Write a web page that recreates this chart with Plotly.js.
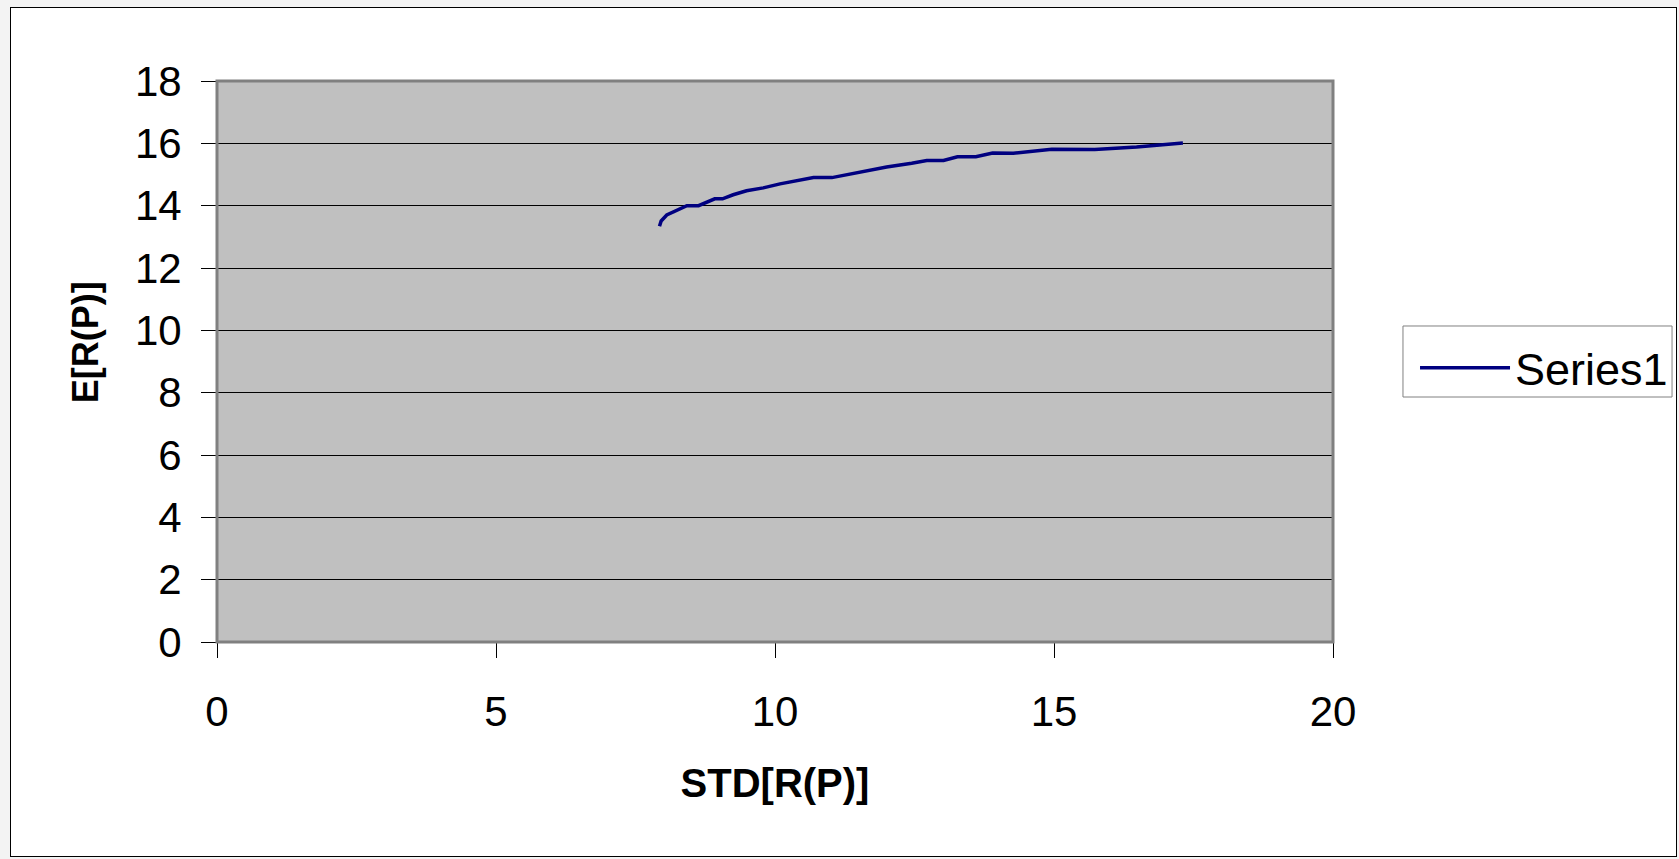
<!DOCTYPE html>
<html>
<head>
<meta charset="utf-8">
<script src="https://cdn.plot.ly/plotly-3.0.1.min.js"></script>
<style>
  html, body { margin: 0; padding: 0; background: #f3f3f3; width: 1679px; height: 859px; overflow: hidden; }
  #frame { position: absolute; left: 10px; top: 7px; width: 1667px; height: 850px; box-sizing: border-box; border: 1px solid #000; background: #fff; }
  #chart { width: 1665px; height: 848px; }
</style>
</head>
<body>
<div id="frame"><div id="chart"></div></div>
<script>
// Data
const seriesName = "Series1";
const stdRP = [7.93, 7.96, 8.06, 8.21, 8.42, 8.63, 8.92, 9.06, 9.25, 9.49, 9.79, 10.09, 10.69, 11.02, 11.64, 12.00, 12.45, 12.72, 13.02, 13.27, 13.60, 13.90, 14.27, 14.96, 15.73, 16.48, 17.31];
const expRP = [13.34, 13.51, 13.70, 13.83, 14.00, 14.00, 14.22, 14.22, 14.35, 14.48, 14.57, 14.70, 14.90, 14.90, 15.13, 15.24, 15.36, 15.45, 15.45, 15.57, 15.57, 15.69, 15.68, 15.81, 15.80, 15.88, 16.01];
const xTicks = [0, 5, 10, 15, 20];
const yTicks = [0, 2, 4, 6, 8, 10, 12, 14, 16, 18];
const xTitle = "STD[R(P)]";
const yTitle = "E[R(P)]";

const font = "Liberation Sans, Arial, sans-serif";

const trace = {
  x: stdRP, y: expRP, type: "scatter", mode: "lines", name: seriesName,
  line: { color: "#000080", width: 3.5 }
};

const layout = {
  width: 1665, height: 848,
  margin: { l: 206, r: 343, t: 73, b: 214, autoexpand: false },
  paper_bgcolor: "#ffffff",
  plot_bgcolor: "#c0c0c0",
  font: { family: font, size: 40, color: "#000" },
  showlegend: true,
  legend: {
    x: 1.0735, y: 0.5525, xanchor: "left", yanchor: "top",
    bgcolor: "rgba(0,0,0,0)", borderwidth: 0,
    font: { family: font, size: 45, color: "#000" },
    itemwidth: 90
  },
  xaxis: {
    range: [0, 20], tickvals: xTicks, ticktext: xTicks.map(String),
    showgrid: false, zeroline: false,
    showline: true, linecolor: "#000", linewidth: 1,
    ticks: "outside", ticklen: 15, tickcolor: "#000", tickwidth: 1,
    ticklabelstandoff: 18,
    tickfont: { family: font, size: 42, color: "#000" },
    title: { text: xTitle, font: { family: font, size: 40, color: "#000", weight: "bold" }, standoff: 34 },
    automargin: false, fixedrange: true
  },
  yaxis: {
    range: [0, 18], tickvals: yTicks, ticktext: yTicks.map(String),
    showgrid: true, gridcolor: "#000", gridwidth: 1, zeroline: false,
    showline: true, linecolor: "#000", linewidth: 1,
    ticks: "outside", ticklen: 15, tickcolor: "#000", tickwidth: 1,
    ticklabelstandoff: 11,
    tickfont: { family: font, size: 42, color: "#000" },
    automargin: false, fixedrange: true
  },
  annotations: [
    { text: "<b>" + yTitle + "</b>", xref: "paper", yref: "paper", x: -0.1177, y: 0.5337,
      xanchor: "center", yanchor: "middle", textangle: -90, showarrow: false,
      font: { family: font, size: 36, color: "#000" } }
  ],
  shapes: [
    { type: "rect", xref: "paper", yref: "paper", x0: 0, x1: 1, y0: 0, y1: 1,
      line: { color: "#808080", width: 3 }, fillcolor: "rgba(0,0,0,0)", layer: "above" },
    { type: "rect", xref: "paper", yref: "paper", x0: 1.0627, x1: 1.3038, y0: 0.4367, y1: 0.5633,
      line: { color: "#808080", width: 1 }, fillcolor: "#ffffff", layer: "below" }
  ]
};

Plotly.newPlot("chart", [trace], layout, { staticPlot: true, displayModeBar: false });
</script>
</body>
</html>
